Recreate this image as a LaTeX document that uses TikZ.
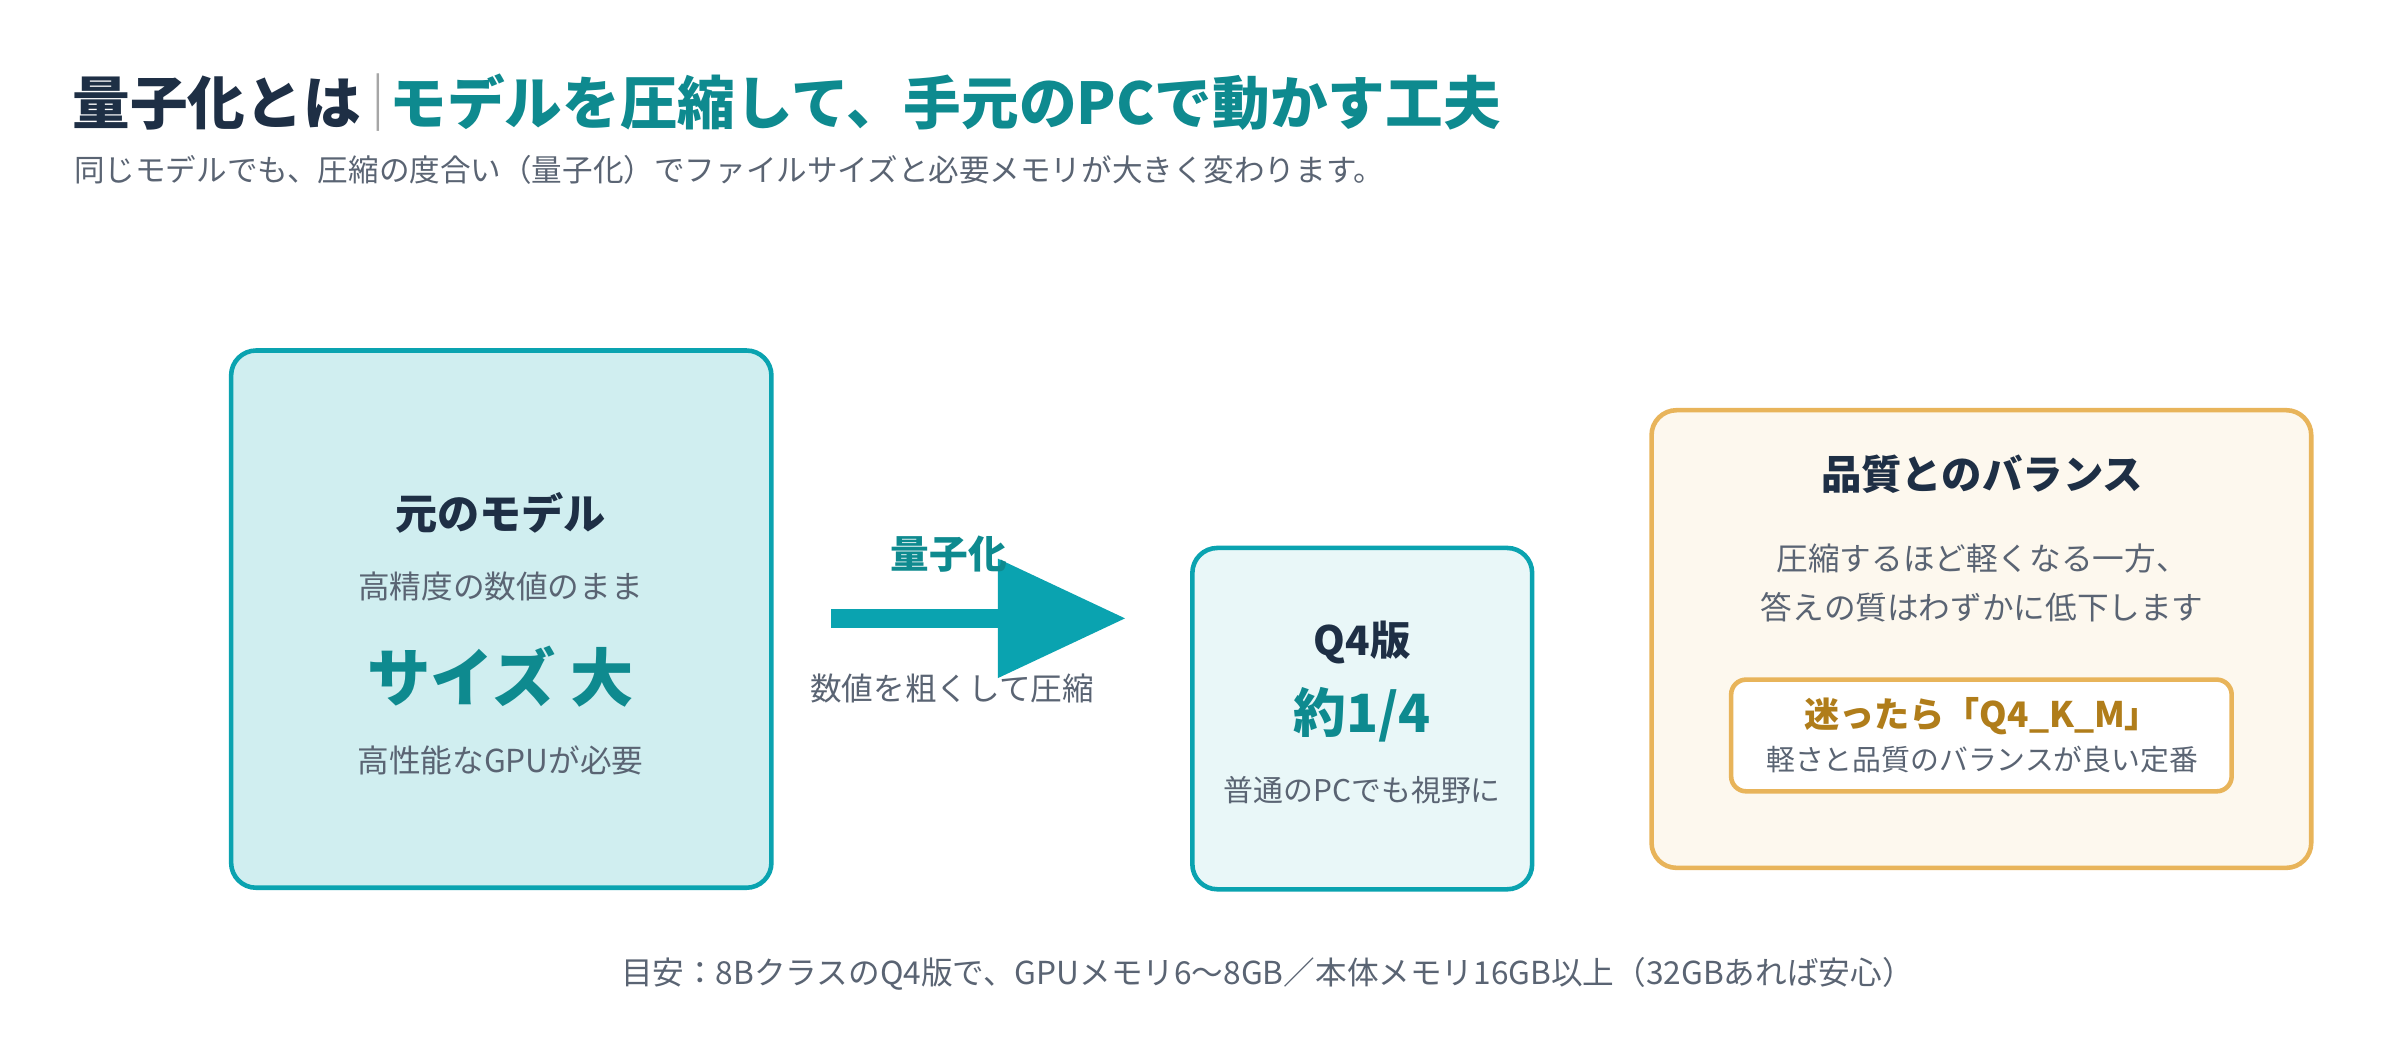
\documentclass[tikz,border=0pt]{standalone}
\usepackage{fontspec}
\setmainfont{Noto Sans CJK JP}
\definecolor{navy}{HTML}{1E2F45}
\definecolor{teal}{HTML}{0E8A8F}
\definecolor{cyanb}{HTML}{0AA3B0}
\definecolor{gtext}{HTML}{5A6473}
\definecolor{orng}{HTML}{E8B45A}
\definecolor{brown}{HTML}{B07D1A}
\begin{document}
\begin{tikzpicture}[x=0.015306cm,y=-0.015306cm,
  box/.style={draw, line width=1.3pt, rounded corners=0.25cm},
  t/.style={inner sep=0pt, text=gtext, font=\fontsize{9}{11}\selectfont},
  h/.style={inner sep=0pt, text=navy, font=\fontsize{12}{14}\selectfont\bfseries}]
\useasboundingbox[fill=white] (0,0) rectangle (1568,680);
\node[anchor=west,inner sep=0pt,font=\fontsize{16.4}{19}\selectfont\bfseries] (title) at (47,67)
  {\textcolor{navy}{量子化とは}\hspace{-0.2em}\textcolor{gray!70}{\mdseries｜}\hspace{-0.3em}\textcolor{teal}{モデルを圧縮して、手元のPCで動かす工夫}};
\node[t,anchor=west,font=\fontsize{8.7}{10}\selectfont] (sub) at (48,111) {同じモデルでも、圧縮の度合い（量子化）でファイルサイズと必要メモリが大きく変わります。};
% left box
\draw[box, draw=cyanb, fill=cyanb!19] (151,229) rectangle (504,580);
\node[h] (l1) at (327,335) {元のモデル};
\node[t] (l2) at (327,383) {高精度の数値のまま};
\node[inner sep=0pt,text=teal,font=\fontsize{18}{21}\selectfont\bfseries] (l3) at (327,442) {サイズ 大};
\node[t] (l4) at (327,497) {高性能なGPUが必要};
% arrow
\coordinate (at) at (735,404);
\fill[cyanb] (543,398) rectangle (655,410);
\fill[cyanb] (652,365) -- (at) -- (652,443) -- cycle;
\node[inner sep=0pt,text=teal,font=\fontsize{11}{13}\selectfont\bfseries] (ql) at (620,362) {量子化};
\node[t] (qd) at (622,450) {数値を粗くして圧縮};
% middle box
\draw[box, draw=cyanb, fill=cyanb!9] (779,358) rectangle (1001,581);
\node[h,font=\fontsize{11.5}{13}\selectfont\bfseries] (m1) at (890,420) {Q4版};
\node[inner sep=0pt,text=teal,font=\fontsize{15}{17}\selectfont\bfseries] (m2) at (890,467) {約1/4};
\node[t,font=\fontsize{8.5}{10}\selectfont] (m3) at (890,516) {普通のPCでも視野に};
% right box
\draw[box, draw=orng, fill=orng!10] (1079,268) rectangle (1510,567);
\node[h,font=\fontsize{11.5}{13}\selectfont\bfseries] (r1) at (1295,310) {品質とのバランス};
\node[t] (r2) at (1295,365) {圧縮するほど軽くなる一方、};
\node[t] (r3) at (1295,397) {答えの質はわずかに低下します};
\draw[draw=orng, fill=white, line width=1.3pt, rounded corners=0.15cm] (1131,444) rectangle (1458,517);
\node[inner sep=0pt,text=brown,font=\fontsize{10}{12}\selectfont\bfseries] (r4) at (1295,468) {迷ったら「Q4\_K\_M」};
\node[t,font=\fontsize{8.2}{10}\selectfont] (r5) at (1295,496) {軽さと品質のバランスが良い定番};
\node[t] (foot) at (828,636) {目安：8BクラスのQ4版で、GPUメモリ6〜8GB／本体メモリ16GB以上（32GBあれば安心）};
\end{tikzpicture}
\end{document}
